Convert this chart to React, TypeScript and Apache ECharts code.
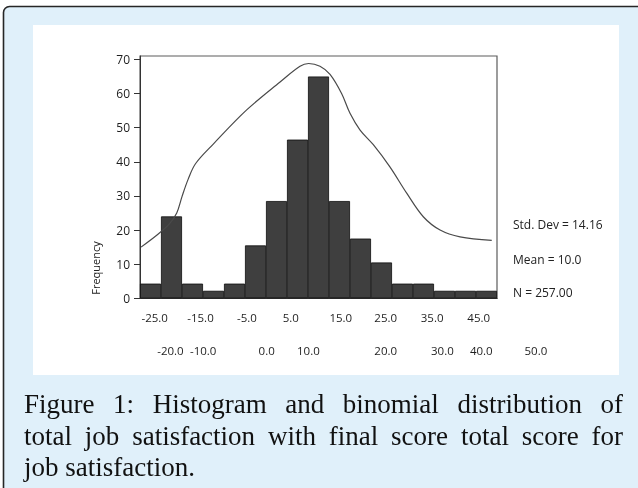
import React, { useEffect, useRef } from 'react';
import * as echarts from 'echarts';

// Histogram bin counts (17 equal-width bins, left to right)
const binCounts = [4.3, 24, 4.3, 2.2, 4.3, 15.5, 28.5, 46.5, 65, 28.5, 17.5, 10.5, 4.3, 4.3, 2.2, 2.2, 2.2];

// Fitted curve, x in bin units (0..17), y in frequency
const curveX = [0.05, 0.84, 1.4, 1.75, 2.0, 2.3, 2.65, 3.49, 5.08, 6.67, 7.62, 8.03, 8.57, 9.05, 9.6, 10.0, 10.48, 11.11, 11.9, 12.7, 13.49, 14.29, 15.24, 16.75];
const curveY = [15.0, 18.7, 21.8, 25.0, 29.8, 35.0, 39.5, 45.2, 55.2, 63.4, 68.0, 68.8, 68.0, 65.6, 60.0, 54.2, 49.3, 45.0, 38.5, 30.8, 23.9, 20.0, 18.0, 17.0];

// X tick labels (two staggered rows), placed in bin units
const topTickLabels = ['-25.0', '-15.0', '-5.0', '5.0', '15.0', '25.0', '35.0', '45.0'];
const topTickAt = [0.7, 2.88, 5.09, 7.18, 9.56, 11.7, 13.91, 16.13];
const bottomTickLabels = ['-20.0', '-10.0', '0.0', '10.0', '20.0', '30.0', '40.0', '50.0'];
const bottomTickAt = [1.45, 3.01, 6.03, 8.02, 11.7, 14.4, 16.25, 18.85];

const yTickValues = [0, 10, 20, 30, 40, 50, 60, 70];
const yAxisTitle = 'Frequency';
const statsLines = ['Std. Dev = 14.16', 'Mean = 10.0', 'N = 257.00'];
const captionLines = [
  'Figure 1: Histogram and binomial distribution of',
  'total job satisfaction with final score total score for',
  'job satisfaction.',
];

const CAPTION_FONT = '27px "Liberation Serif"';

function captionElements(): any[] {
  const canvas = document.createElement('canvas');
  const ctx = canvas.getContext('2d')!;
  ctx.font = CAPTION_FONT;
  const left = 24;
  const right = 623;
  const mids = [404, 435.5, 467];
  const els: any[] = [];
  captionLines.forEach((line, li) => {
    const words = line.split(' ');
    const widths = words.map((w) => ctx.measureText(w).width);
    const total = widths.reduce((a, b) => a + b, 0);
    const last = li === captionLines.length - 1;
    const gap = last ? ctx.measureText(' ').width : (right - left - total) / (words.length - 1);
    let x = left;
    words.forEach((w, wi) => {
      els.push({
        type: 'text',
        z: 10,
        style: {
          text: w,
          x,
          y: mids[li],
          font: CAPTION_FONT,
          fill: '#111111',
          textAlign: 'left',
          verticalAlign: 'middle',
        },
      });
      x += widths[wi] + gap;
    });
  });
  return els;
}

export default function App() {
  const ref = useRef<HTMLDivElement>(null);
  useEffect(() => {
    if (!ref.current) return;
    const chart = echarts.init(ref.current, null, { renderer: 'svg' });
    const labelFont = { fontFamily: 'Open Sans', fontSize: 11.5, color: '#1e1e1e' };
    const option: any = {
      animation: false,
      backgroundColor: 'transparent',
      grid: [
        { left: 140, top: 56, width: 357, height: 242.3, show: true, borderColor: '#5c5c5c', borderWidth: 1.2, backgroundColor: 'transparent' },
        { left: 140, top: 56, width: 420, height: 242.3, show: false },
      ],
      xAxis: [
        {
          type: 'value', gridIndex: 0, min: 0, max: 17,
          axisLine: { show: true, lineStyle: { color: '#333', width: 1 } },
          axisTick: { show: false },
          splitLine: { show: false },
          axisLabel: {
            ...labelFont,
            margin: 13,
            customValues: topTickAt,
            formatter: (v: number) => {
              const i = topTickAt.findIndex((p) => Math.abs(p - v) < 1e-6);
              return i >= 0 ? topTickLabels[i] : '';
            },
          },
        },
        {
          type: 'value', gridIndex: 1, min: 0, max: 20,
          axisLine: { show: false },
          axisTick: { show: false },
          splitLine: { show: false },
          axisLabel: {
            ...labelFont,
            margin: 46,
            customValues: bottomTickAt,
            formatter: (v: number) => {
              const i = bottomTickAt.findIndex((p) => Math.abs(p - v) < 1e-6);
              return i >= 0 ? bottomTickLabels[i] : '';
            },
          },
        },
      ],
      yAxis: [
        {
          type: 'value', gridIndex: 0, min: 0, max: 71,
          axisLine: { show: true, lineStyle: { color: '#333', width: 1 } },
          axisTick: { show: true, length: 6, customValues: yTickValues, lineStyle: { color: '#333' } },
          splitLine: { show: false },
          axisLabel: { ...labelFont, fontSize: 12, margin: 10, customValues: yTickValues, formatter: (v: number) => String(v) },
        },
        { type: 'value', gridIndex: 1, min: 0, max: 71, show: false },
      ],
      series: [
        {
          type: 'bar',
          xAxisIndex: 0,
          yAxisIndex: 0,
          data: binCounts.map((v, i) => [i + 0.5, v]),
          barWidth: 21,
          itemStyle: { color: '#3f3f3f', borderColor: '#0e0e0e', borderWidth: 0.8 },
          z: 2,
        },
        {
          type: 'line',
          xAxisIndex: 0,
          yAxisIndex: 0,
          data: curveX.map((x, i) => [x, curveY[i]]),
          smooth: 0.35,
          showSymbol: false,
          symbol: 'none',
          lineStyle: { color: '#4a4a4a', width: 1.2 },
          z: 3,
        },
      ],
      graphic: [
        {
          type: 'rect', z: -10,
          shape: { x: 3.5, y: 6.5, width: 700, height: 600, r: 6 },
          style: { fill: '#e0f0fa', stroke: '#262626', lineWidth: 1.6 },
        },
        {
          type: 'rect', z: -9,
          shape: { x: 33, y: 25, width: 586, height: 350 },
          style: { fill: '#ffffff' },
        },
        {
          type: 'text', z: 10, x: 95, y: 268, rotation: Math.PI / 2,
          style: { text: yAxisTitle, font: '11px "Open Sans"', fill: '#222', textAlign: 'center', verticalAlign: 'middle' },
        },
        ...statsLines.map((t, i) => ({
          type: 'text', z: 10,
          style: {
            text: t, x: 513, y: [224.3, 259, 292.3][i],
            font: '12px "Open Sans"', fill: '#222', textAlign: 'left', verticalAlign: 'middle',
          },
        })),
        ...captionElements(),
      ],
    };
    chart.setOption(option);
    return () => chart.dispose();
  }, []);
  return <div ref={ref} style={{ position: 'fixed', left: 0, top: 0, width: 638, height: 488 }} />;
}
